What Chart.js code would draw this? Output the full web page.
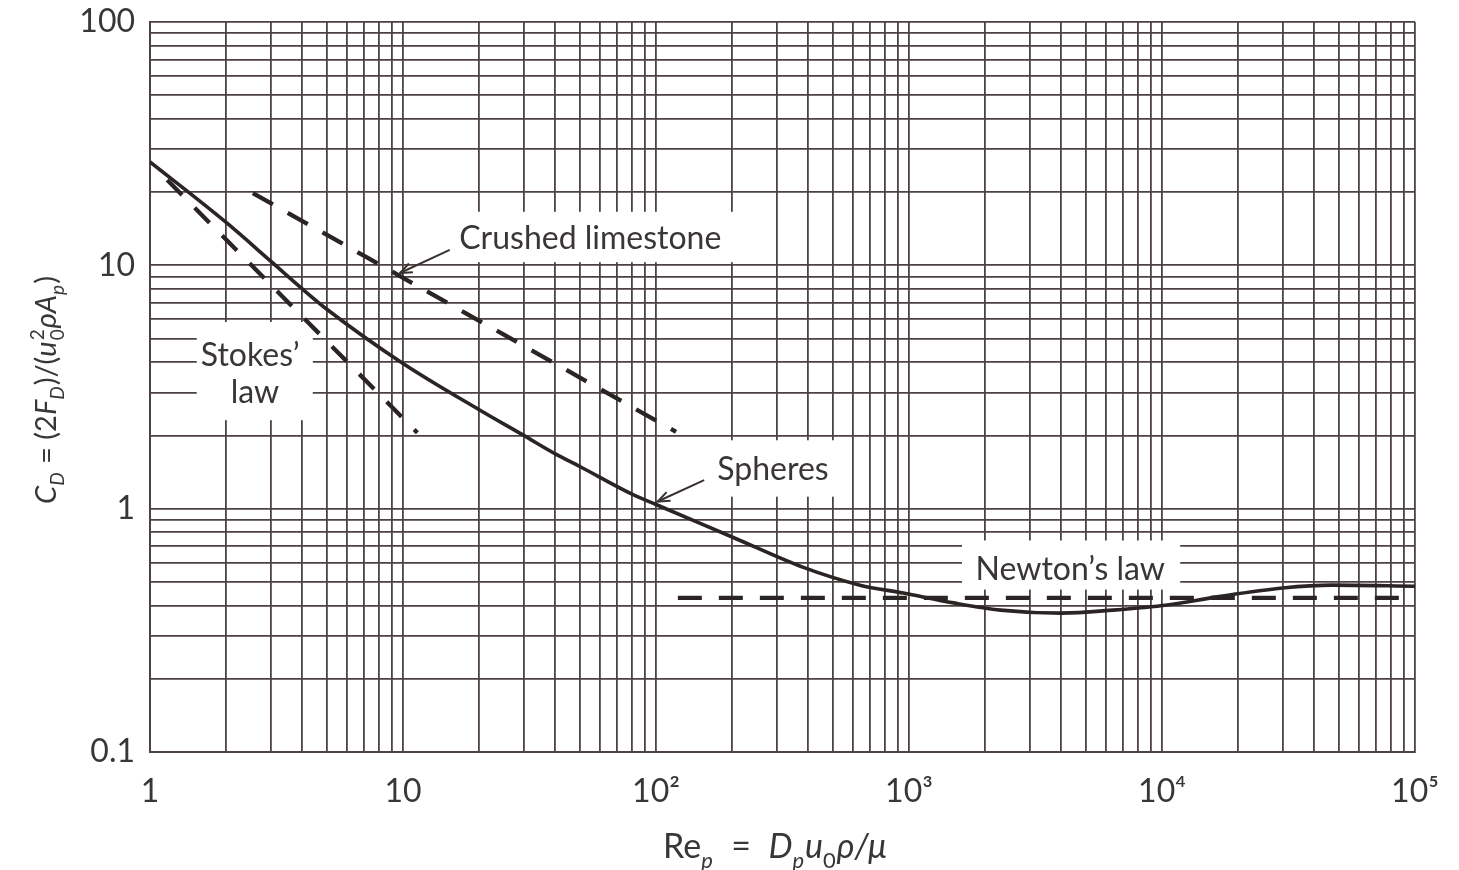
<!DOCTYPE html>
<html>
<head>
<meta charset="utf-8">
<script src="https://cdn.jsdelivr.net/npm/chart.js@4.4.1/dist/chart.umd.min.js"></script>
<style>
  html, body { margin: 0; padding: 0; background: #ffffff; }
  #wrap { width: 1459px; height: 870px; }
</style>
</head>
<body>
<div id="wrap"><canvas id="c" width="1459" height="870"></canvas></div>
<script>
// ---------------- data ----------------
const xTickValues = [1, 10, 100, 1000, 10000, 100000];
const xTickLabels = ['1', '10', '10²', '10³', '10⁴', '10⁵'];
const yTickValues = [0.1, 1, 10, 100];
const yTickLabels = ['0.1', '1', '10', '100'];
const gridMultipliers = [1, 2, 3, 4, 5, 6, 7, 8, 9];

// Spheres (solid curve)
const sphereRe = [1, 2, 3, 4, 5, 10, 20, 30, 40, 50, 80, 100, 200, 380, 640, 950, 1500, 2300, 4000, 6400, 10500, 16500, 30000, 47000, 100000];
const sphereCD = [26.6, 15.0, 10.4, 8.0, 6.6, 3.95, 2.55, 2.0, 1.68, 1.49, 1.15, 1.04, 0.765, 0.575, 0.485, 0.45, 0.41, 0.383, 0.372, 0.383, 0.402, 0.434, 0.472, 0.485, 0.48];

// Stokes' law (dashed)
const stokesRe = [1.17, 11.4];
const stokesCD = [22.4, 2.05];

// Crushed limestone (dashed)
const limeRe = [2.55, 120];
const limeCD = [19.8, 2.07];

// Newton's law (dashed)
const newtonRe = [122, 100000];
const newtonCD = [0.43, 0.43];

// ---------------- annotations (data coordinates) ----------------
const labelBoxes = [
  { re: [1.53, 4.4],   cd: [5.85, 2.31] },   // Stokes' law
  { re: [15.3, 215],   cd: [16.6, 10.3] },   // Crushed limestone
  { re: [149, 535],    cd: [1.91, 1.12] },   // Spheres
  { re: [1620, 11800], cd: [0.74, 0.465] }   // Newton's law
];
const textLabels = [
  { t: 'Crushed limestone', re: 55,   cd: 12.9 },
  { t: 'Spheres',           re: 290,  cd: 1.443 },
  { t: 'Stokes\u2019',      re: 2.49, cd: 4.27 },
  { t: 'law',               re: 2.6,  cd: 2.99 },
  { t: 'Newton\u2019s law', re: 4340, cd: 0.56 }
];
const arrows = [
  { from: [15.3, 11.58], to: [9.73, 9.3] },
  { from: [155, 1.31],   to: [101.5, 1.07] }
];

const INK = '#2b2424';
const GRID = '#4d4242';
const TEXT = '#3a3636';
const FONT = 'Lato, "DejaVu Sans", sans-serif';

function pts(xs, ys) { return xs.map((v, i) => ({ x: v, y: ys[i] })); }
function gridValues(lo, hi) {
  const out = [];
  for (let e = Math.log10(lo); e < Math.log10(hi); e++) {
    for (const m of gridMultipliers) out.push(+(m * Math.pow(10, e)).toPrecision(6));
  }
  out.push(hi);
  return out;
}
function labelFor(values, labels, v) {
  for (let i = 0; i < values.length; i++) {
    if (Math.abs(Math.log10(values[i]) - Math.log10(v)) < 1e-6) return labels[i];
  }
  return '';
}

// rich text: runs of {t, it, pos:'b'|'sub'|'sup'|'ss'(sup+sub stacked)}
function runFont(size, it) { return (it ? 'italic ' : '') + size + 'px ' + FONT; }
function measureRuns(ctx, runs, size) {
  let w = 0;
  const small = Math.round(size * 0.64);
  for (const r of runs) {
    if (r.pos === 'b') { ctx.font = runFont(size, r.it); r._w = ctx.measureText(r.t).width; }
    else if (r.pos === 'ss') {
      ctx.font = runFont(small, r.it);
      r._w = Math.max(ctx.measureText(r.sup).width, ctx.measureText(r.sub).width) + 2;
    } else { ctx.font = runFont(small, r.it); r._w = ctx.measureText(r.t).width + 1; }
    w += r._w;
  }
  return w;
}
function drawRuns(ctx, runs, size) {
  const total = measureRuns(ctx, runs, size);
  const small = Math.round(size * 0.64);
  let x = -total / 2;
  ctx.textBaseline = 'alphabetic';
  ctx.textAlign = 'left';
  for (const r of runs) {
    if (r.pos === 'b') { ctx.font = runFont(size, r.it); ctx.fillText(r.t, x, 0); }
    else if (r.pos === 'sub') { ctx.font = runFont(small, r.it); ctx.fillText(r.t, x, size * 0.28); }
    else if (r.pos === 'sup') { ctx.font = runFont(small, r.it); ctx.fillText(r.t, x, -size * 0.42); }
    else if (r.pos === 'ss') {
      ctx.font = runFont(small, r.it);
      ctx.fillText(r.sup, x + 1, -size * 0.42);
      ctx.fillText(r.sub, x + 1, size * 0.28);
    }
    x += r._w;
  }
}

const yTitleRuns = [
  { t: 'C', it: true, pos: 'b' }, { t: 'D', it: true, pos: 'sub' },
  { t: ' = (2', it: false, pos: 'b' },
  { t: 'F', it: true, pos: 'b' }, { t: 'D', it: true, pos: 'sub' },
  { t: ')/(', it: false, pos: 'b' },
  { t: 'u', it: true, pos: 'b' }, { sup: '2', sub: '0', it: false, pos: 'ss' },
  { t: '\u03C1A', it: true, pos: 'b' }, { t: 'p', it: true, pos: 'sub' },
  { t: ')', it: false, pos: 'b' }
];
const xTitleRuns = [
  { t: 'Re', it: false, pos: 'b' }, { t: 'p', it: true, pos: 'sub' },
  { t: '  =  ', it: false, pos: 'b' },
  { t: 'D', it: true, pos: 'b' }, { t: 'p', it: true, pos: 'sub' },
  { t: 'u', it: true, pos: 'b' }, { t: '0', it: false, pos: 'sub' },
  { t: '\u03C1/\u03BC', it: true, pos: 'b' }
];

function drawArrow(ctx, x1, y1, x2, y2) {
  ctx.beginPath(); ctx.moveTo(x1, y1); ctx.lineTo(x2, y2); ctx.stroke();
  const a = Math.atan2(y2 - y1, x2 - x1), L = 13, s = 0.38;
  ctx.beginPath();
  ctx.moveTo(x2 - L * Math.cos(a - s), y2 - L * Math.sin(a - s));
  ctx.lineTo(x2, y2);
  ctx.lineTo(x2 - L * Math.cos(a + s), y2 - L * Math.sin(a + s));
  ctx.stroke();
}

const annotPlugin = {
  id: 'annot',
  beforeDatasetsDraw(chart) {
    const { ctx, scales: { x, y } } = chart;
    ctx.save();
    ctx.fillStyle = '#ffffff';
    for (const b of labelBoxes) {
      const x1 = x.getPixelForValue(b.re[0]), x2 = x.getPixelForValue(b.re[1]);
      const y1 = y.getPixelForValue(b.cd[0]), y2 = y.getPixelForValue(b.cd[1]);
      ctx.fillRect(x1, y1, x2 - x1, y2 - y1);
    }
    ctx.restore();
  },
  afterDatasetsDraw(chart) {
    const { ctx, scales: { x, y } } = chart;
    ctx.save();
    ctx.fillStyle = TEXT;
    ctx.font = '32px ' + FONT;
    ctx.textAlign = 'center';
    ctx.textBaseline = 'middle';
    for (const l of textLabels) ctx.fillText(l.t, x.getPixelForValue(l.re), y.getPixelForValue(l.cd));
    ctx.strokeStyle = '#3a3232';
    ctx.lineWidth = 2;
    for (const a of arrows) {
      drawArrow(ctx, x.getPixelForValue(a.from[0]), y.getPixelForValue(a.from[1]),
                x.getPixelForValue(a.to[0]), y.getPixelForValue(a.to[1]));
    }
    ctx.restore();
  },
  afterDraw(chart) {
    const { ctx } = chart;
    ctx.save();
    ctx.fillStyle = TEXT;
    ctx.translate(56, 390);
    ctx.rotate(-Math.PI / 2);
    drawRuns(ctx, yTitleRuns, 29);
    ctx.restore();
    ctx.save();
    ctx.fillStyle = TEXT;
    ctx.translate(775, 858);
    drawRuns(ctx, xTitleRuns, 34);
    ctx.restore();
  }
};

const lineDs = (label, xs, ys, width, dash) => ({
  label, data: pts(xs, ys), showLine: true, borderColor: INK, backgroundColor: INK,
  borderWidth: width, borderDash: dash, pointRadius: 0, pointHoverRadius: 0,
  cubicInterpolationMode: 'monotone', fill: false, borderCapStyle: 'butt'
});

new Chart(document.getElementById('c'), {
  type: 'scatter',
  data: {
    datasets: [
      lineDs('Spheres', sphereRe, sphereCD, 3.6, []),
      lineDs('Stokes\u2019 law', stokesRe, stokesCD, 4.3, [21, 18]),
      lineDs('Crushed limestone', limeRe, limeCD, 4.3, [23, 17]),
      lineDs('Newton\u2019s law', newtonRe, newtonCD, 4.3, [24, 17])
    ]
  },
  options: {
    responsive: false,
    animation: false,
    events: [],
    layout: { padding: { left: 0, top: 22, right: 44, bottom: 0 } },
    plugins: { legend: { display: false }, tooltip: { enabled: false } },
    scales: {
      x: {
        type: 'logarithmic', min: 1, max: 100000,
        afterBuildTicks: (s) => { s.ticks = gridValues(1, 100000).map(v => ({ value: v })); },
        afterFit: (s) => { s.height = 118; s.paddingLeft = 0; s.paddingRight = 0; },
        ticks: {
          autoSkip: false, maxRotation: 0, padding: 20, color: TEXT,
          font: { family: FONT, size: 32 },
          callback: (v) => labelFor(xTickValues, xTickLabels, v)
        },
        grid: { color: GRID, lineWidth: 1.8, drawTicks: false },
        border: { color: GRID, width: 2 }
      },
      y: {
        type: 'logarithmic', min: 0.1, max: 100,
        afterBuildTicks: (s) => { s.ticks = gridValues(0.1, 100).map(v => ({ value: v })); },
        afterFit: (s) => { s.width = 150; s.paddingTop = 0; s.paddingBottom = 0; },
        ticks: {
          autoSkip: false, padding: 15, color: TEXT,
          font: { family: FONT, size: 32 },
          callback: (v) => labelFor(yTickValues, yTickLabels, v)
        },
        grid: { color: GRID, lineWidth: 1.8, drawTicks: false },
        border: { color: GRID, width: 2 }
      }
    }
  },
  plugins: [annotPlugin]
});
</script>
</body>
</html>
